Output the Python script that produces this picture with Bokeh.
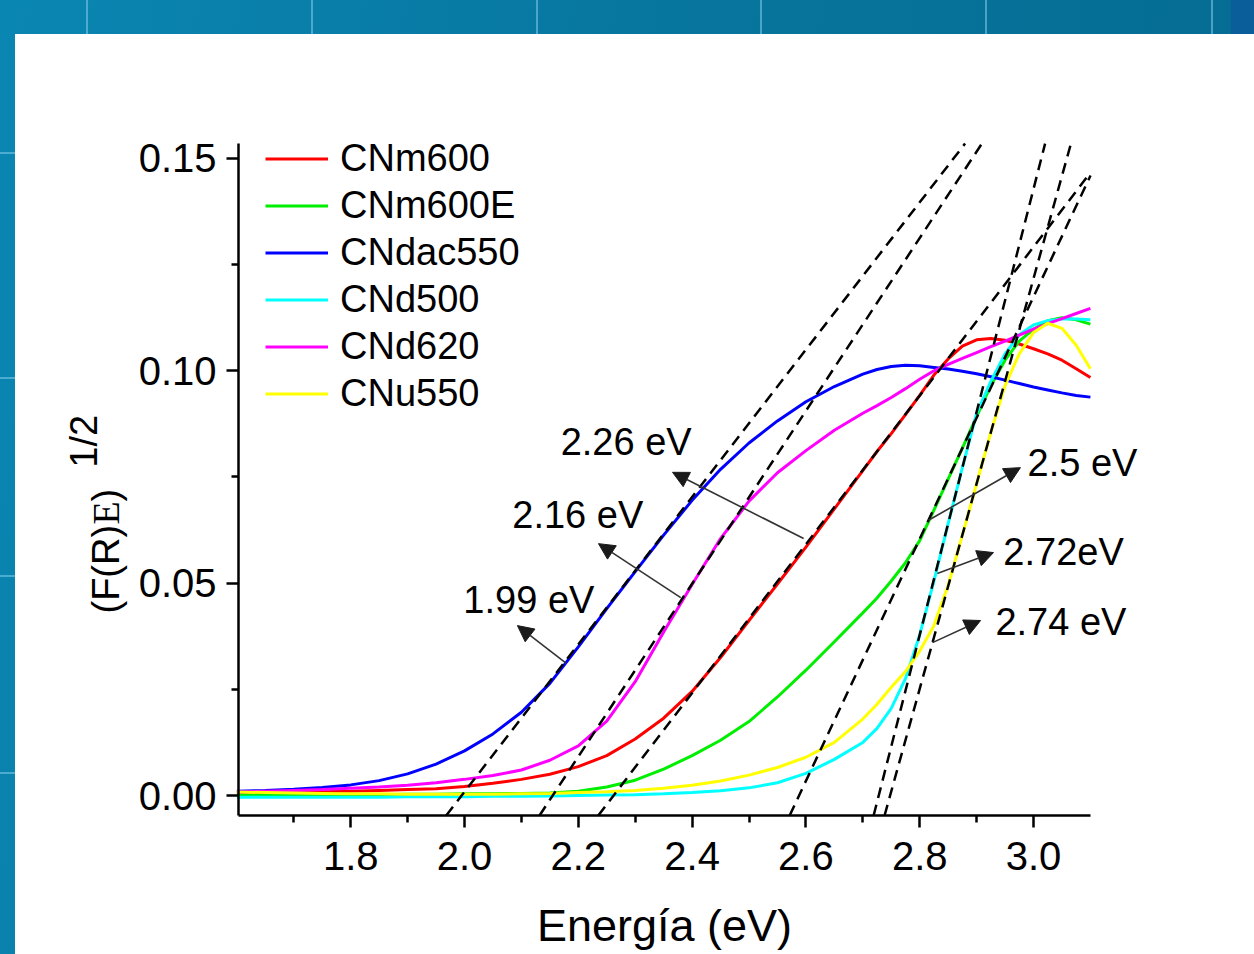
import numpy as np
from bokeh.plotting import figure
from bokeh.models import (Range1d, FixedTicker, PrintfTickFormatter, Legend, LegendItem,
                          Label, Arrow, NormalHead, LinearAxis)
from bokeh.embed import file_html
from bokeh.resources import INLINE

# ---------------- data ----------------
energy = [1.60, 1.65, 1.70, 1.75, 1.80, 1.85, 1.90, 1.95, 2.00, 2.05, 2.10, 2.15,
          2.20, 2.25, 2.30, 2.35, 2.40, 2.45, 2.50, 2.55, 2.60, 2.65,
          2.70, 2.725, 2.75, 2.775, 2.80, 2.825, 2.85, 2.875, 2.90, 2.925,
          2.95, 2.975, 3.00, 3.025, 3.05, 3.075, 3.10]

cnm600 = [0.0006, 0.0007, 0.0008, 0.0009, 0.0010, 0.0012, 0.0014, 0.0016, 0.0021, 0.0029,
          0.0038, 0.0050, 0.0068, 0.0094, 0.0133, 0.0182, 0.0245, 0.0325, 0.0412, 0.0498,
          0.0585, 0.0675,
          0.0765, 0.0810, 0.0852, 0.0897, 0.0942, 0.0990, 0.1028, 0.1058, 0.1073, 0.1076,
          0.1072, 0.1063, 0.1052, 0.1040, 0.1025, 0.1005, 0.0984]

cnm600e = [0.0001, 0.0001, 0.0001, 0.0002, 0.0002, 0.0002, 0.0003, 0.0003, 0.0004, 0.0004,
           0.0005, 0.0006, 0.0010, 0.0020, 0.0036, 0.0062, 0.0094, 0.0130, 0.0174, 0.0232,
           0.0295, 0.0362,
           0.0430, 0.0465, 0.0505, 0.0548, 0.0600, 0.0672, 0.0745, 0.0818, 0.0892, 0.0965,
           0.1025, 0.1070, 0.1098, 0.1118, 0.1125, 0.1120, 0.1110]

cndac550 = [0.0010, 0.0012, 0.0015, 0.0019, 0.0025, 0.0035, 0.0051, 0.0074, 0.0105, 0.0145,
            0.0196, 0.0264, 0.0350, 0.0440, 0.0527, 0.0613, 0.0695, 0.0768, 0.0830, 0.0882,
            0.0927, 0.0963,
            0.0992, 0.1003, 0.1010, 0.1013, 0.1012, 0.1008, 0.1004, 0.0999, 0.0993, 0.0986,
            0.0978, 0.0970, 0.0962, 0.0955, 0.0948, 0.0942, 0.0938]

cnd500 = [-0.0004, -0.0004, -0.0004, -0.0004, -0.0004, -0.0004, -0.0003, -0.0003, -0.0003, -0.0002,
          -0.0002, -0.0001, 0.0000, 0.0001, 0.0002, 0.0004, 0.0007, 0.0011, 0.0018, 0.0030,
          0.0052, 0.0085,
          0.0125, 0.0158, 0.0205, 0.0275, 0.0378, 0.0505, 0.0640, 0.0772, 0.0900, 0.0975,
          0.1040, 0.1085, 0.1108, 0.1118, 0.1122, 0.1122, 0.1120]

cnd620 = [0.0008, 0.0010, 0.0012, 0.0014, 0.0017, 0.0020, 0.0024, 0.0030, 0.0038, 0.0047,
          0.0060, 0.0083, 0.0117, 0.0175, 0.0268, 0.0385, 0.0497, 0.0605, 0.0693, 0.0760,
          0.0812, 0.0860,
          0.0900, 0.0918, 0.0937, 0.0958, 0.0980, 0.1000, 0.1015, 0.1029, 0.1043, 0.1057,
          0.1070, 0.1084, 0.1098, 0.1111, 0.1123, 0.1135, 0.1147]

cnu550 = [0.0008, 0.0007, 0.0006, 0.0005, 0.0004, 0.0004, 0.0003, 0.0003, 0.0003, 0.0003,
          0.0004, 0.0005, 0.0007, 0.0009, 0.0012, 0.0017, 0.0024, 0.0034, 0.0048, 0.0066,
          0.0090, 0.0125,
          0.0180, 0.0215, 0.0255, 0.0292, 0.0340, 0.0400, 0.0495, 0.0613, 0.0734, 0.0855,
          0.0965, 0.1040, 0.1090, 0.1112, 0.1100, 0.1060, 0.1005]

series_names = ["CNm600", "CNm600E", "CNdac550", "CNd500", "CNd620", "CNu550"]
series_values = [cnm600, cnm600e, cndac550, cnd500, cnd620, cnu550]
series_colors = ["#ff0000", "#00ee00", "#0000ff", "#00ffff", "#ff00ff", "#ffff00"]

# Tauc tangent lines: x-intercept (eV) and slope
tangent_x0 = [1.995, 2.155, 2.262, 2.588, 2.728, 2.748]
tangent_slope = [0.1735, 0.2035, 0.175, 0.285, 0.525, 0.483]

gap_labels = ["1.99 eV", "2.16 eV", "2.26 eV", "2.5 eV", "2.72eV", "2.74 eV"]
# label anchor (left, baseline) in data units
gap_label_x = [1.998, 2.084, 2.169, 2.9895, 2.947, 2.933]
gap_label_y = [0.0429, 0.0629, 0.0801, 0.0753, 0.0542, 0.0377]
# arrows: start on the curve -> arrow tip
arrow_x0 = [2.179, 2.380, 2.596, 2.8155, 2.831, 2.8225]
arrow_y0 = [0.0311, 0.0466, 0.0605, 0.0648, 0.0523, 0.0360]
arrow_x1 = [2.093, 2.2355, 2.3656, 2.977, 2.9297, 2.907]
arrow_y1 = [0.0400, 0.0593, 0.0761, 0.0772, 0.0572, 0.0412]

x_ticks = [1.8, 2.0, 2.2, 2.4, 2.6, 2.8, 3.0]
x_minor = [1.7, 1.9, 2.1, 2.3, 2.5, 2.7, 2.9]
y_ticks = [0.00, 0.05, 0.10, 0.15]
y_minor = [0.025, 0.075, 0.125]

# axis box (data) and full-canvas view
BOX_X = (1.6028, 3.1002)
BOX_Y = (-0.0047, 0.1535)
VIEW_X = (1.18453, 3.38840)
VIEW_Y = (-0.037438, 0.187191)
# pixel sizes of one data unit in this view
PX_X = 1254 / (VIEW_X[1] - VIEW_X[0])
PX_Y = 954 / (VIEW_Y[1] - VIEW_Y[0])
TXT_DY = 13 / PX_Y     # baseline correction for 38px labels
TXT_DX = 12 / PX_X     # same for the rotated y title

SANS = "Liberation Sans"
SERIF = "Liberation Serif"

# ---------------- figure ----------------
p = figure(width=1254, height=954, output_backend="svg", toolbar_location=None,
           x_range=Range1d(*VIEW_X), y_range=Range1d(*VIEW_Y),
           x_axis_location=None, y_axis_location=None,
           min_border=0)
p.border_fill_color = None
p.background_fill_color = None
p.outline_line_color = None
p.grid.visible = False

_hl = "rgba(130,205,235,0.55)"
_strip_lines = ", ".join(
    f"linear-gradient({_hl}, {_hl}) {x}px 0 / 2px 34px no-repeat" for x in (86, 311, 536, 760, 985, 1211))
_side_lines = ", ".join(
    f"linear-gradient({_hl}, {_hl}) 0 {y}px / 15px 2px no-repeat" for y in (152, 377, 575, 772))
p.styles = {
    "background": "linear-gradient(#ffffff, #ffffff) 15px 34px / 100% 100% no-repeat, "
                  + _strip_lines + ", " + _side_lines + ", "
                  "linear-gradient(90deg, rgba(0,0,0,0) 98.2%, #0a5f9a 98.2%) 0 0 / 100% 34px no-repeat, "
                  "linear-gradient(100deg, #0a86b2 0%, #07759d 50%, #056a90 100%)"
}

xaxis = LinearAxis(fixed_location=BOX_Y[0], bounds=BOX_X)
yaxis = LinearAxis(fixed_location=BOX_X[0], bounds=BOX_Y)
p.add_layout(xaxis, "below")
p.add_layout(yaxis, "left")

for ax in (xaxis, yaxis):
    ax.axis_line_width = 2.5
    ax.axis_line_color = "black"
    ax.major_tick_line_width = 2.5
    ax.minor_tick_line_width = 2.5
    ax.major_tick_in = 0
    ax.minor_tick_in = 0
    ax.major_tick_out = 12
    ax.minor_tick_out = 7
    ax.major_label_text_font = SANS
    ax.major_label_text_font_size = "40px"
    ax.major_label_text_color = "black"

xaxis.ticker = FixedTicker(ticks=x_ticks, minor_ticks=x_minor)
xaxis.formatter = PrintfTickFormatter(format="%.1f")
xaxis.major_label_standoff = 15
yaxis.ticker = FixedTicker(ticks=y_ticks, minor_ticks=y_minor)
yaxis.formatter = PrintfTickFormatter(format="%.2f")
yaxis.major_label_standoff = 10

# curves
renderers = []
for name, vals, col in zip(series_names, series_values, series_colors):
    r = p.line(energy, vals, line_color=col, line_width=3)
    renderers.append(r)

# tangent (dashed) lines, clipped to the axis box
x0 = np.array(tangent_x0)
s = np.array(tangent_slope)
ys = np.full_like(x0, BOX_Y[0])
xs = x0 + ys / s
xe = x0 + BOX_Y[1] / s
ye = np.full_like(x0, BOX_Y[1])
over = xe > BOX_X[1]
ye[over] = s[over] * (BOX_X[1] - x0[over])
xe[over] = BOX_X[1]
p.segment(x0=xs, y0=ys, x1=xe, y1=ye,
          line_color="black", line_width=2.5, line_dash="11 7")

# legend
legend = Legend(items=[LegendItem(label=n, renderers=[r]) for n, r in zip(series_names, renderers)],
                location=(265, 537), padding=0, margin=0, spacing=0,
                glyph_width=63, glyph_height=47, label_height=47, label_standoff=12,
                label_text_font=SANS, label_text_font_size="38px", label_text_color="black",
                background_fill_alpha=0, border_line_alpha=0)
p.add_layout(legend, "center")

# gap annotations
for t, lx, ly in zip(gap_labels, gap_label_x, gap_label_y):
    p.add_layout(Label(x=lx, y=ly + TXT_DY, text=t, text_font=SANS, text_font_size="38px",
                       text_color="black", text_align="left", text_baseline="alphabetic"))
for xa, ya, xb, yb in zip(arrow_x0, arrow_y0, arrow_x1, arrow_y1):
    p.add_layout(Arrow(x_start=xa, y_start=ya, x_end=xb, y_end=yb,
                       line_color="#333333", line_width=1.6,
                       end=NormalHead(size=16, line_color="#1a1a1a", line_width=1,
                                      fill_color="#1a1a1a")))

# axis titles as labels
p.add_layout(Label(x=2.3515, y=-0.0356 + 21 / PX_Y, text="Energía (eV)", text_font=SANS,
                   text_font_size="45px", text_color="black", text_align="center",
                   text_baseline="alphabetic"))
ylab_x = 1.3902 - TXT_DX
p.add_layout(Label(x=ylab_x, y=0.04285, text="(F(R)", angle=np.pi / 2, text_font=SANS,
                   text_font_size="38px", text_color="black", text_baseline="alphabetic"))
p.add_layout(Label(x=ylab_x, y=0.0638, text="E", angle=np.pi / 2, text_font=SERIF,
                   text_font_size="38px", text_color="black", text_baseline="alphabetic"))
p.add_layout(Label(x=ylab_x, y=0.0692, text=")", angle=np.pi / 2, text_font=SANS,
                   text_font_size="38px", text_color="black", text_baseline="alphabetic"))
p.add_layout(Label(x=1.3515 - TXT_DX, y=0.0772, text="1/2", angle=np.pi / 2, text_font=SANS,
                   text_font_size="38px", text_color="black", text_baseline="alphabetic"))

open("out.html", "w").write(file_html(p, INLINE))
